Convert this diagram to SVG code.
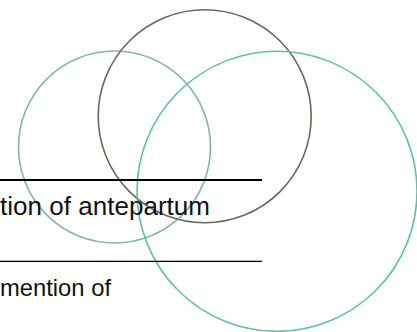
<svg xmlns="http://www.w3.org/2000/svg" width="417" height="332" viewBox="0 0 417 332">
<style>
.c{fill:none;stroke-width:1.6}
.t{font-family:"Liberation Sans",Arial,sans-serif;fill:#111}
</style>
<rect width="417" height="332" fill="#fff"/>
<g id="circle-left"><circle class="c" cx="114.5" cy="147" r="96" stroke="#85b3b6"/></g>
<g id="circle-top"><circle class="c" cx="204.7" cy="116.3" r="106.5" stroke="#6c665a"/></g>
<g id="circle-right"><circle class="c" cx="277" cy="191.3" r="140" stroke="#5ec0aa"/></g>
<g id="connectors">
<line x1="0" y1="180" x2="262" y2="180" stroke="#000" stroke-width="2"/>
<line x1="0" y1="261.3" x2="262" y2="261.3" stroke="#000" stroke-width="1.2"/>
</g>
<g id="labels">
<text class="t" x="0" y="215" font-size="25" textLength="210" lengthAdjust="spacingAndGlyphs">tion of antepartum</text>
<text class="t" x="0" y="296" font-size="24" textLength="111" lengthAdjust="spacingAndGlyphs">mention of</text>
</g>
</svg>
